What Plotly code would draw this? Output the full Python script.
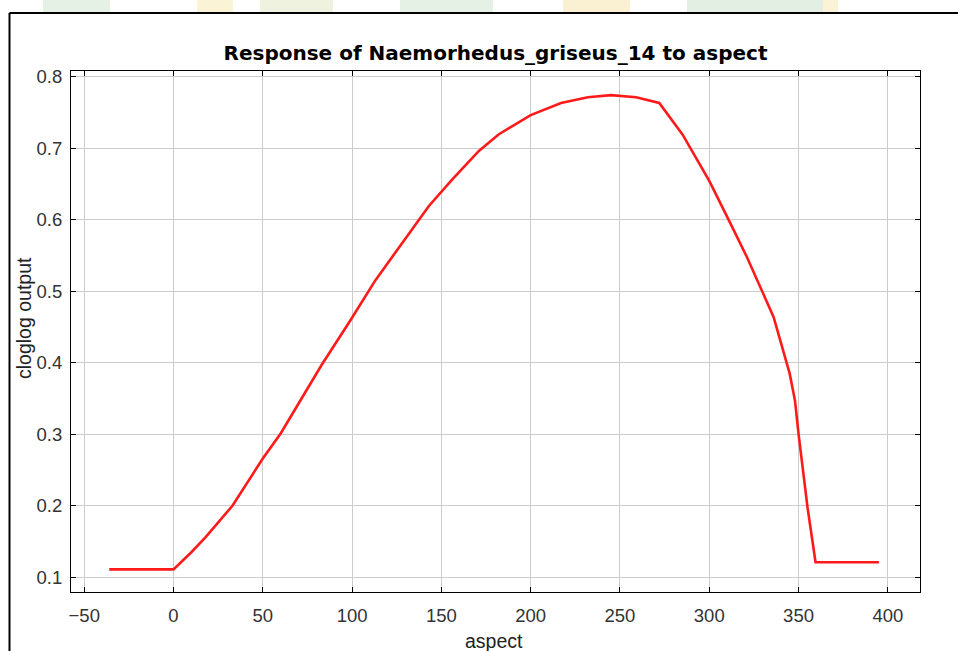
import plotly.graph_objects as go

# Data
aspect = [-36, 0, 10, 18, 33, 50, 60, 83, 99, 108, 113, 143, 156, 171, 182, 200,
          217, 232, 245, 259, 272, 285, 297, 300, 311, 321, 336, 345, 348, 350,
          355, 359.5, 395]
cloglog = [0.111, 0.111, 0.135, 0.156, 0.200, 0.266, 0.301, 0.397, 0.459, 0.494,
           0.515, 0.619, 0.656, 0.696, 0.719, 0.746, 0.763, 0.771, 0.774, 0.771,
           0.763, 0.719, 0.667, 0.654, 0.599, 0.548, 0.464, 0.385, 0.347, 0.300,
           0.198, 0.121, 0.121]
x_ticks = [-50, 0, 50, 100, 150, 200, 250, 300, 350, 400]
y_ticks = [0.1, 0.2, 0.3, 0.4, 0.5, 0.6, 0.7, 0.8]
y_tick_text = ["0.1", "0.2", "0.3", "0.4", "0.5", "0.6", "0.7", "0.8"]

W, H = 958, 651
L, R, T, B = 71, 38, 71, 59
PW, PH = W - L - R, H - T - B


def px(x):
    return (x - L) / PW


def py(y):
    return (H - B - y) / PH


fig = go.Figure()
fig.add_trace(go.Scatter(x=aspect, y=cloglog, mode="lines",
                         line=dict(color="#ff1a1a", width=2.6), hoverinfo="skip"))

shapes = []
# faint watermark strip above the frame
wm = [(43, 110, "#e6f1e6"), (197, 233, "#fbf3d6"), (260, 333, "#eef2df"),
      (400, 493, "#e6f1e6"), (563, 630, "#faf1d2"), (687, 830, "#e3efe3"),
      (823, 838, "#fbf3d6")]
for x0, x1, c in wm:
    shapes.append(dict(type="rect", xref="paper", yref="paper", x0=px(x0), x1=px(x1),
                       y0=py(12), y1=py(0), fillcolor=c, line=dict(width=0), layer="below"))
# outer frame lines
shapes.append(dict(type="line", xref="paper", yref="paper", x0=px(9.5), x1=px(958),
                   y0=py(13), y1=py(13), line=dict(color="black", width=2)))
shapes.append(dict(type="line", xref="paper", yref="paper", x0=px(9.5), x1=px(9.5),
                   y0=py(13), y1=py(651), line=dict(color="black", width=2)))

font = "Liberation Sans, Arial, sans-serif"
fig.update_layout(
    width=W, height=H,
    margin=dict(l=L, r=R, t=T, b=B),
    paper_bgcolor="white", plot_bgcolor="white",
    showlegend=False,
    shapes=shapes,
    font=dict(family=font, color="#333333"),
    title=dict(text="<b>Response of Naemorhedus_griseus_14 to aspect</b>",
               x=px(495.5), xref="paper", xanchor="center",
               y=1 - 53 / H, yanchor="middle",
               font=dict(size=20, color="black", family="DejaVu Sans, sans-serif")),
    annotations=[
        dict(text="aspect", xref="paper", yref="paper", x=px(494), y=py(641),
             xanchor="center", yanchor="middle", showarrow=False,
             font=dict(size=19.5, color="#222222", family=font)),
        dict(text="cloglog output", xref="paper", yref="paper", x=px(24), y=py(318),
             xanchor="center", yanchor="middle", showarrow=False, textangle=-90,
             font=dict(size=19.5, color="#222222", family=font)),
    ],
    xaxis=dict(range=[-57.4, 418], tickvals=x_ticks, ticks="inside", ticklen=5,
               ticklabelstandoff=7,
               tickcolor="black", mirror="ticks", showline=True, linecolor="black",
               linewidth=1, showgrid=True, gridcolor="#cccccc", gridwidth=1,
               zeroline=False, tickfont=dict(size=18.5, color="#333333")),
    yaxis=dict(range=[0.0794, 0.8077], tickvals=y_ticks, ticktext=y_tick_text,
               ticks="inside", ticklen=5, ticklabelstandoff=4,
               tickcolor="black", mirror="ticks", showline=True, linecolor="black",
               linewidth=1, showgrid=True, gridcolor="#cccccc", gridwidth=1,
               zeroline=False, tickfont=dict(size=18.5, color="#333333")),
)

fig.write_html("out.html")
